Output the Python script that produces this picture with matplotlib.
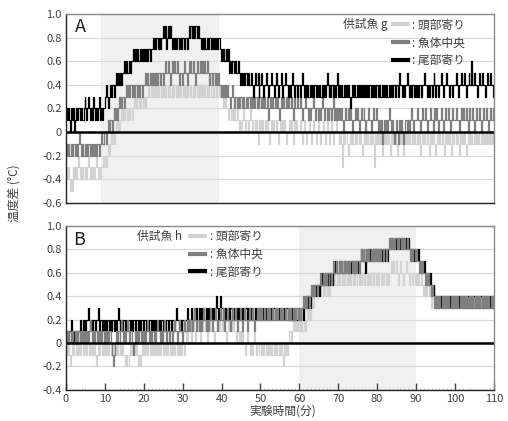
import matplotlib

matplotlib.use("Agg")

import matplotlib.pyplot as plt
import numpy as np

plt.rcParams["font.family"] = ["Noto Sans CJK JP", "DejaVu Sans"]

# sampling interval of the readings (min); values below are in 0.1 degC units
step_min = 0.25

# fish g (panel A)
A_head = [
    -3, -4, -3, -4, -5, -4, -5, -3, -4, -3, -4, -3, -2, -3, -4, -3, -4, -3, -3, -4,
    -3, -4, -3, -2, -3, -4, -3, -4, -3, -4, -3, -2, -3, -4, -3, -4, -3, -3, -2, -3,
    -2, -3, -2, -1, -2, -1, 0, -1, 0, -1, 0, 1, 0, 1, 0, 1, 1, 2, 1, 2,
    1, 2, 2, 1, 2, 1, 2, 2, 1, 2, 3, 2, 3, 2, 2, 3, 2, 3, 3, 2,
    3, 2, 3, 3, 4, 3, 3, 4, 3, 4, 3, 3, 4, 3, 4, 3, 4, 4, 3, 4,
    3, 4, 3, 4, 4, 3, 4, 3, 3, 4, 3, 4, 4, 3, 4, 3, 4, 3, 4, 4,
    3, 4, 3, 4, 3, 4, 4, 3, 4, 3, 3, 4, 3, 4, 4, 3, 4, 3, 4, 3,
    4, 3, 4, 3, 3, 4, 3, 4, 4, 3, 3, 4, 3, 3, 4, 3, 3, 4, 3, 3,
    3, 2, 3, 2, 3, 2, 2, 1, 2, 2, 1, 2, 1, 2, 1, 1, 2, 1, 0, 1,
    0, 1, 2, 1, 0, 1, 1, 0, 1, 2, 1, 0, 1, 1, 0, 1, 0, -1, 1, 0,
    1, 0, 1, 0, 0, 1, 0, 1, 0, -1, 0, 1, 0, 1, 0, 0, 1, 0, -1, 0,
    1, 0, 1, 0, 1, 0, -1, 0, 0, 1, 0, 1, 0, -1, 0, 1, 0, 1, 0, 0,
    0, 1, 0, -1, 0, 1, 0, -1, 0, 0, 1, 0, -1, 0, 1, 0, 0, -1, 0, 1,
    0, -1, 0, 0, 1, 0, -1, 0, 1, 0, 0, -1, 0, 1, 0, -1, 0, 0, 1, 0,
    0, -1, 0, -1, -3, 0, -1, 0, 0, -1, -2, -1, 0, -1, 0, -1, -1, 0, -1, 0,
    0, -1, 0, -1, -2, -1, 0, -1, 0, -1, 0, -1, -1, 0, -1, 0, -1, -3, 0, -1,
    0, -1, 0, -1, 0, -2, -1, 0, -1, 0, -1, 0, -1, -2, 0, -1, 0, -1, 0, -1,
    -2, -1, 0, -1, 0, -1, 0, -2, -1, 0, -1, 0, -1, 0, -1, -1, 0, -1, 0, -1,
    -1, 0, -1, 0, -2, -1, 0, -1, 0, -1, -1, 0, -1, -2, 0, -1, 0, -1, 0, -1,
    -2, -1, 0, -1, 0, -1, -1, 0, -1, -2, 0, -1, 0, -1, 0, -1, -2, 0, -1, 0,
    0, -1, 0, -1, -2, 0, -1, 0, -1, 0, -1, -2, -1, 0, -1, 0, -1, 0, -1, -1,
    0, -1, 0, -1, 0, -1, -1, 0, -1, 0, -1, 0, -1, 0, -1, 0, -1, 0, -1, 0,
    -1,
]
A_mid = [
    -1, -2, -1, -2, -2, -1, -2, -1, -1, -2, -1, -2, -1, 0, -1, -2, -1, -2, -2, -1,
    -2, -1, -2, -1, -1, -2, -1, -2, -1, -2, -1, -2, -1, -1, -2, -1, 0, -1, -1, 0,
    0, -1, 0, 1, 0, 1, 1, 0, 1, 2, 1, 2, 1, 2, 3, 2, 3, 2, 3, 3,
    2, 3, 4, 3, 4, 3, 4, 4, 3, 4, 3, 4, 4, 3, 4, 3, 4, 4, 3, 4,
    4, 5, 4, 5, 4, 4, 5, 4, 5, 4, 5, 5, 4, 5, 4, 5, 5, 4, 5, 5,
    4, 5, 6, 5, 5, 6, 5, 4, 5, 6, 5, 6, 5, 5, 6, 5, 4, 5, 5, 4,
    5, 6, 5, 5, 4, 5, 6, 5, 6, 5, 5, 6, 5, 4, 5, 6, 5, 5, 6, 5,
    6, 5, 6, 5, 5, 6, 5, 4, 5, 5, 4, 5, 5, 4, 5, 4, 5, 4, 4, 3,
    4, 3, 4, 3, 4, 3, 4, 3, 3, 2, 3, 4, 3, 2, 3, 3, 2, 3, 2, 3,
    3, 2, 3, 2, 2, 3, 2, 3, 3, 2, 3, 2, 3, 2, 3, 3, 2, 3, 2, 3,
    3, 2, 3, 2, 3, 2, 2, 3, 1, 2, 3, 2, 3, 2, 2, 3, 2, 3, 2, 1,
    2, 3, 2, 3, 2, 2, 3, 2, 3, 2, 2, 3, 2, 1, 2, 3, 2, 2, 3, 2,
    2, 3, 2, 1, 2, 2, 3, 2, 2, 1, 2, 1, 2, 2, 3, 2, 1, 2, 2, 1,
    2, 1, 2, 3, 2, 1, 2, 2, 1, 2, 1, 2, 2, 1, 2, 3, 1, 2, 1, 2,
    1, 2, 1, 2, 1, 0, 1, 2, 1, 1, 2, 1, 2, 1, 0, 1, 1, 2, 1, 2,
    1, 0, 1, 2, 1, 1, 2, 1, 0, 1, 1, 2, 1, 1, 0, 1, 2, 1, 1, 2,
    1, 0, 1, 0, 1, -1, 0, 1, 0, 1, 0, 1, 2, 1, 0, 1, 0, -1, 0, 1,
    0, -1, 0, 1, 0, 1, 0, -1, 0, 1, 1, 0, 1, 0, 1, 2, 1, 0, 1, 1,
    1, 2, 1, 1, 0, 1, 2, 1, 1, 2, 1, 0, 1, 1, 2, 1, 1, 0, 1, 2,
    1, 2, 1, 0, 1, 1, 2, 1, 0, 1, 2, 1, 1, 2, 1, 0, 1, 2, 1, 1,
    1, 2, 1, 1, 0, 1, 2, 1, 2, 1, 1, 2, 1, 0, 1, 2, 1, 1, 2, 1,
    0, 1, 2, 1, 1, 2, 1, 0, 1, 2, 1, 1, 2, 1, 0, 1, 2, 1, 1, 2,
    1,
]
A_tail = [
    2, 1, 2, 1, 0, 2, 1, 2, 0, 1, 2, 1, 2, 2, 1, 2, 1, 1, 2, 3,
    2, 1, 2, 3, 2, 1, 2, 1, 3, 2, 1, 2, 1, 2, 3, 1, 2, 1, 2, 2,
    3, 4, 3, 2, 3, 4, 3, 4, 4, 3, 4, 5, 4, 5, 4, 4, 5, 4, 5, 5,
    6, 5, 6, 5, 5, 6, 5, 6, 6, 7, 6, 7, 6, 7, 6, 6, 7, 6, 7, 6,
    7, 6, 7, 6, 7, 7, 6, 7, 7, 8, 7, 8, 7, 8, 8, 7, 8, 7, 8, 8,
    9, 8, 9, 7, 8, 9, 8, 9, 8, 7, 8, 7, 8, 7, 8, 8, 7, 8, 7, 8,
    8, 7, 8, 8, 7, 8, 9, 8, 9, 9, 8, 9, 8, 9, 9, 8, 9, 8, 8, 7,
    8, 7, 8, 7, 7, 8, 7, 8, 8, 7, 8, 7, 8, 7, 8, 7, 8, 8, 7, 6,
    7, 6, 7, 6, 6, 7, 6, 7, 5, 6, 5, 6, 6, 5, 6, 5, 5, 6, 5, 4,
    5, 4, 5, 4, 5, 5, 4, 5, 4, 4, 5, 4, 3, 4, 5, 4, 4, 5, 3, 4,
    4, 5, 4, 3, 4, 4, 5, 4, 3, 4, 4, 5, 4, 4, 3, 4, 5, 4, 3, 4,
    4, 5, 3, 4, 4, 5, 4, 4, 3, 4, 3, 4, 5, 4, 4, 3, 4, 4, 3, 4,
    4, 3, 4, 5, 4, 3, 4, 3, 4, 3, 3, 4, 3, 4, 3, 4, 4, 3, 4, 3,
    4, 3, 3, 4, 3, 4, 3, 4, 5, 4, 3, 4, 3, 4, 4, 3, 4, 3, 4, 5,
    3, 4, 3, 4, 3, 3, 4, 3, 4, 3, 4, 3, 2, 3, 4, 3, 4, 3, 3, 4,
    3, 4, 3, 4, 3, 4, 4, 3, 4, 3, 4, 3, 4, 4, 3, 4, 3, 4, 3, 4,
    4, 3, 4, 3, 3, 4, 3, 4, 3, 4, 3, 3, 4, 3, 4, 3, 4, 4, 3, 4,
    4, 3, 4, 5, 4, 4, 3, 4, 3, 4, 4, 5, 4, 3, 4, 3, 4, 4, 3, 4,
    3, 4, 3, 4, 4, 3, 4, 4, 5, 4, 4, 3, 4, 3, 4, 4, 3, 4, 5, 4,
    3, 4, 4, 3, 4, 4, 5, 4, 3, 4, 4, 5, 4, 4, 3, 4, 4, 3, 4, 4,
    4, 5, 4, 3, 4, 4, 5, 4, 4, 5, 4, 3, 4, 4, 5, 4, 4, 6, 4, 4,
    5, 4, 4, 3, 4, 5, 4, 4, 5, 4, 4, 3, 4, 5, 4, 4, 5, 4, 4, 3,
    4,
]

# fish h (panel B)
B_head = [
    0, -1, 0, -1, -2, -1, 0, -1, 0, 0, -1, 0, -1, 0, -1, 0, 0, -1, 0, -1,
    0, -1, 0, 0, -1, 0, -1, 0, -1, 0, -1, -2, -1, 0, -1, 0, 0, -1, 0, -1,
    0, -1, 0, -1, 0, 0, -1, 0, -1, 0, -1, 0, -1, 0, 0, -1, 0, -1, 0, -1,
    -1, -2, -1, -2, -2, -1, 0, -1, 0, -1, 0, -1, 0, -1, -2, -1, -2, -1, 0, -1,
    0, -1, 0, -1, 0, 0, -1, 0, -1, 0, -1, 0, 0, -1, 0, -1, 0, -1, 0, 0,
    -1, 0, -1, 0, -1, 0, 0, -1, 0, -1, 0, -1, 0, 0, -1, 0, -1, 0, -1, 0,
    0, -1, 0, 1, 0, 1, 2, 1, 1, 0, 1, 2, 1, 0, 1, 1, 2, 1, 0, 1,
    2, 1, 1, 2, 1, 0, 1, 2, 1, 1, 2, 1, 0, 1, 1, 2, 1, 2, 1, 1,
    2, 1, 1, 2, 1, 0, 1, 2, 1, 1, 2, 1, 2, 1, 1, 0, 1, 1, 0, 1,
    0, 1, 0, 0, -1, 0, 1, 0, 0, -1, 0, -1, 0, 1, 0, -1, 0, 0, -1, 0,
    0, -1, 0, -1, 0, 0, -1, 0, -1, 0, -1, 0, -1, -1, 0, -1, 0, -1, -1, 0,
    -1, 0, -1, -2, 0, -1, 0, -1, 0, 1, 1, 0, 1, 2, 1, 1, 2, 1, 2, 1,
    2, 1, 2, 1, 1, 2, 1, 2, 3, 2, 3, 2, 3, 4, 3, 4, 4, 5, 4, 5,
    4, 5, 4, 4, 5, 4, 5, 5, 4, 5, 5, 4, 5, 6, 5, 5, 6, 5, 5, 6,
    5, 6, 5, 5, 6, 5, 6, 5, 5, 6, 5, 6, 5, 6, 6, 5, 6, 5, 5, 6,
    6, 5, 6, 5, 6, 6, 5, 6, 5, 5, 6, 5, 6, 5, 6, 6, 5, 6, 6, 5,
    6, 5, 6, 6, 5, 6, 5, 6, 6, 5, 6, 5, 6, 6, 7, 6, 7, 6, 6, 7,
    6, 5, 6, 6, 7, 6, 6, 5, 6, 6, 7, 6, 6, 5, 6, 6, 5, 6, 6, 5,
    6, 5, 6, 5, 5, 6, 5, 4, 5, 4, 5, 4, 4, 5, 4, 3, 4, 4, 3, 4,
    3, 4, 3, 3, 4, 3, 4, 3, 4, 3, 3, 4, 3, 4, 3, 4, 3, 3, 4, 3,
    4, 3, 4, 3, 3, 4, 3, 4, 3, 3, 4, 3, 4, 3, 4, 3, 3, 4, 3, 4,
    3, 3, 4, 3, 4, 3, 4, 3, 3, 4, 3, 4, 3, 3, 4, 3, 4, 3, 4, 3,
    3,
]
B_mid = [
    1, 0, 1, 0, 0, 1, 0, 1, 1, 0, 1, 0, 1, 1, 0, 1, 0, 1, 0, 1,
    1, 0, 1, 0, 1, 2, 1, 0, 1, 0, 1, 1, 0, 1, 0, 1, 0, 1, 1, 0,
    1, 0, 1, 0, 1, 1, 0, -1, -2, -1, 0, 1, 0, 1, 1, 0, 1, 2, 1, 0,
    1, 0, 1, 2, 1, 0, 1, 1, 0, -1, 0, 1, 0, 1, 0, 1, 1, 0, 1, 0,
    1, 0, 1, 2, 1, 0, 1, 0, 1, 1, 0, 1, 0, 1, 2, 1, 1, 0, 1, 0,
    1, 2, 1, 0, 1, 1, 0, 1, 1, 0, 1, 2, 1, 1, 0, 1, 2, 1, 1, 0,
    1, 2, 1, 1, 2, 1, 2, 1, 2, 2, 1, 2, 3, 2, 1, 2, 2, 1, 2, 1,
    2, 3, 2, 2, 1, 2, 1, 2, 3, 2, 1, 2, 2, 3, 2, 1, 2, 2, 3, 2,
    2, 3, 2, 1, 2, 2, 3, 2, 2, 1, 2, 3, 2, 2, 3, 2, 1, 2, 2, 3,
    2, 1, 2, 3, 2, 2, 1, 2, 3, 2, 2, 3, 2, 1, 2, 2, 3, 2, 2, 3,
    2, 3, 2, 2, 3, 2, 2, 3, 2, 3, 2, 2, 3, 2, 2, 3, 2, 3, 2, 2,
    3, 2, 3, 2, 2, 3, 2, 2, 3, 2, 3, 2, 2, 3, 2, 3, 2, 3, 3, 2,
    3, 2, 3, 3, 4, 3, 4, 3, 4, 4, 3, 4, 5, 4, 5, 4, 5, 5, 4, 5,
    5, 6, 5, 5, 6, 5, 6, 5, 6, 6, 5, 6, 6, 5, 6, 7, 6, 6, 7, 6,
    6, 7, 6, 7, 6, 6, 7, 6, 7, 6, 7, 6, 7, 7, 6, 7, 6, 7, 6, 7,
    7, 6, 7, 8, 7, 7, 8, 7, 7, 8, 7, 8, 7, 7, 8, 7, 8, 7, 8, 7,
    8, 7, 8, 7, 8, 8, 7, 8, 8, 7, 8, 8, 9, 8, 9, 8, 9, 8, 9, 9,
    8, 9, 8, 9, 9, 8, 9, 8, 9, 8, 8, 9, 8, 8, 7, 8, 7, 8, 8, 7,
    8, 7, 7, 6, 7, 6, 7, 6, 6, 5, 6, 5, 6, 5, 5, 4, 5, 4, 4, 3,
    4, 3, 4, 3, 4, 3, 3, 4, 3, 4, 3, 4, 3, 4, 3, 3, 4, 3, 4, 3,
    4, 3, 4, 3, 3, 4, 3, 4, 3, 4, 3, 4, 3, 3, 4, 3, 4, 3, 4, 3,
    3, 4, 3, 4, 3, 4, 3, 3, 4, 3, 4, 3, 4, 3, 4, 3, 3, 4, 3, 4,
    3,
]
B_tail = [
    1, 1, 0, 1, 1, 2, 1, 1, 0, 1, 1, 0, 1, 1, 2, 1, 1, 2, 1, 2,
    1, 2, 2, 3, 2, 1, 2, 1, 2, 2, 1, 2, 2, 3, 1, 2, 2, 1, 2, 1,
    2, 1, 2, 2, 1, 2, 1, 2, 2, 1, 2, 1, 2, 3, 2, 1, 2, 2, 1, 2,
    2, 1, 2, 1, 2, 2, 1, 2, 1, 2, 2, 1, 2, 2, 1, 2, 1, 2, 2, 1,
    2, 2, 1, 2, 1, 2, 2, 1, 2, 1, 2, 2, 1, 2, 2, 1, 2, 1, 2, 2,
    1, 2, 1, 2, 2, 1, 2, 2, 1, 2, 2, 1, 2, 3, 2, 2, 1, 2, 1, 2,
    2, 1, 2, 2, 3, 2, 2, 1, 2, 3, 2, 2, 3, 2, 3, 2, 2, 3, 2, 3,
    2, 3, 2, 2, 3, 2, 3, 2, 2, 3, 2, 3, 2, 3, 4, 3, 2, 3, 4, 3,
    3, 2, 3, 2, 3, 2, 2, 3, 2, 3, 3, 2, 3, 2, 2, 3, 2, 3, 2, 2,
    3, 2, 3, 2, 3, 3, 2, 3, 2, 3, 2, 3, 2, 2, 3, 2, 3, 2, 2, 3,
    2, 3, 2, 3, 2, 2, 3, 2, 3, 2, 2, 3, 2, 3, 3, 2, 3, 2, 2, 3,
    2, 3, 2, 2, 3, 2, 3, 3, 2, 3, 2, 2, 3, 2, 3, 2, 3, 2, 2, 3,
    3, 2, 3, 3, 2, 3, 3, 4, 3, 4, 4, 3, 4, 4, 5, 4, 5, 4, 5, 5,
    4, 5, 5, 6, 5, 5, 6, 5, 6, 5, 6, 5, 6, 6, 5, 6, 6, 7, 6, 6,
    6, 7, 6, 7, 6, 6, 7, 6, 7, 7, 6, 7, 6, 7, 7, 6, 7, 6, 7, 7,
    6, 7, 7, 8, 7, 7, 8, 7, 6, 7, 7, 8, 7, 8, 7, 7, 8, 7, 8, 8,
    7, 8, 7, 8, 8, 7, 8, 7, 8, 8, 7, 8, 8, 9, 8, 9, 8, 8, 9, 8,
    9, 8, 9, 9, 8, 9, 8, 9, 9, 8, 9, 8, 9, 8, 8, 7, 8, 7, 8, 7,
    8, 7, 8, 7, 7, 6, 7, 6, 7, 6, 6, 5, 6, 5, 6, 5, 5, 4, 5, 4,
    4, 3, 4, 3, 4, 4, 3, 4, 3, 4, 3, 4, 4, 3, 4, 3, 4, 3, 4, 4,
    3, 4, 3, 4, 3, 4, 4, 3, 4, 3, 4, 3, 4, 4, 3, 4, 3, 4, 3, 4,
    4, 3, 4, 3, 4, 3, 4, 4, 3, 4, 3, 4, 3, 4, 4, 3, 4, 3, 4, 3,
    4,
]

labels = [": 頭部寄り", ": 魚体中央", ": 尾部寄り"]
colors = ["#d2d2d2", "#7f7f7f", "#000000"]

A_yticks = [-0.6, -0.4, -0.2, 0, 0.2, 0.4, 0.6, 0.8, 1.0]
A_ylabels = ["-0.6", "-0.4", "-0.2", "0", "0.2", "0.4", "0.6", "0.8", "1.0"]
B_yticks = [-0.4, -0.2, 0, 0.2, 0.4, 0.6, 0.8, 1.0]
B_ylabels = ["-0.4", "-0.2", "0", "0.2", "0.4", "0.6", "0.8", "1.0"]
x_ticks = [0, 10, 20, 30, 40, 50, 60, 70, 80, 90, 100, 110]


def draw_panel(ax, series, order, shade, yticks, ylabels, letter, fish,
               leg_xy, fish_xy):
    ax.axvspan(shade[0], shade[1], color="#f0f0f0", lw=0, zorder=0)
    ax.set_yticks(yticks)
    ax.set_yticklabels(ylabels)
    ax.set_ylim(yticks[0], yticks[-1])
    ax.set_xlim(0, 110)
    ax.grid(axis="y", color="#d9d9d9", lw=0.9, zorder=0.5)
    ax.set_axisbelow(True)

    handles = [None, None, None]
    for i in order:
        v = np.array(series[i]) / 10.0
        t = np.arange(len(v)) * step_min
        (h,) = ax.step(t, v, where="post", color=colors[i], lw=0.9, zorder=2)
        handles[i] = h
    ax.axhline(0, color="black", lw=1.8, zorder=3)

    ax.tick_params(axis="y", length=0, labelsize=8, colors="#404040", pad=3)
    for side in ("top", "right"):
        ax.spines[side].set_color("#8a8a8a")
    for side in ("left", "bottom"):
        ax.spines[side].set_color("#222222")
    for sp in ax.spines.values():
        sp.set_linewidth(1.0)
        sp.set_zorder(4)

    ax.text(*letter[1], letter[0], transform=ax.transAxes, fontsize=13,
            color="#222222", va="center", ha="left")
    ax.text(*fish_xy, fish, transform=ax.transAxes, fontsize=8.5,
            color="#404040", va="center", ha="right")
    leg = ax.legend(handles, labels, loc="upper left", bbox_to_anchor=leg_xy,
                    frameon=False, fontsize=8.5, handlelength=1.3,
                    handletextpad=0.35, labelspacing=0.4, borderpad=0,
                    borderaxespad=0)
    for t in leg.get_texts():
        t.set_color("#404040")
    for ln in leg.get_lines():
        ln.set_linewidth(3)


fig = plt.figure(figsize=(5.08, 4.21), dpi=100)
axA = fig.add_axes([0.130, 0.518, 0.842, 0.449])
axB = fig.add_axes([0.130, 0.074, 0.842, 0.389])

draw_panel(axA, [A_head, A_mid, A_tail], (0, 1, 2), (9, 39.3), A_yticks,
           A_ylabels, ("A", (0.021, 0.929)), "供試魚 g", (0.764, 0.975),
           (0.752, 0.942))
draw_panel(axB, [B_head, B_mid, B_tail], (0, 2, 1), (60, 90), B_yticks,
           B_ylabels, ("B", (0.017, 0.915)), "供試魚 h", (0.290, 0.976),
           (0.271, 0.939))

axA.tick_params(axis="x", bottom=False, labelbottom=False)
axB.set_xticks(x_ticks)
axB.set_xticks(np.arange(0, 111, 1), minor=True)
axB.tick_params(axis="x", which="major", direction="in", length=5, width=1,
                colors="#404040", labelsize=8, pad=3)
axB.tick_params(axis="x", which="minor", direction="in", length=1.5,
                width=0.6, color="#c0c0c0")

fig.text(0.028, 0.54, "温度差 (°C)", rotation=90, ha="center", va="center",
         fontsize=8.5, color="#404040")
fig.text(0.557, 0.024, "実験時間(分)", ha="center", va="center",
         fontsize=8.5, color="#404040")

fig.savefig("out.png", dpi=100)
plt.close(fig)
